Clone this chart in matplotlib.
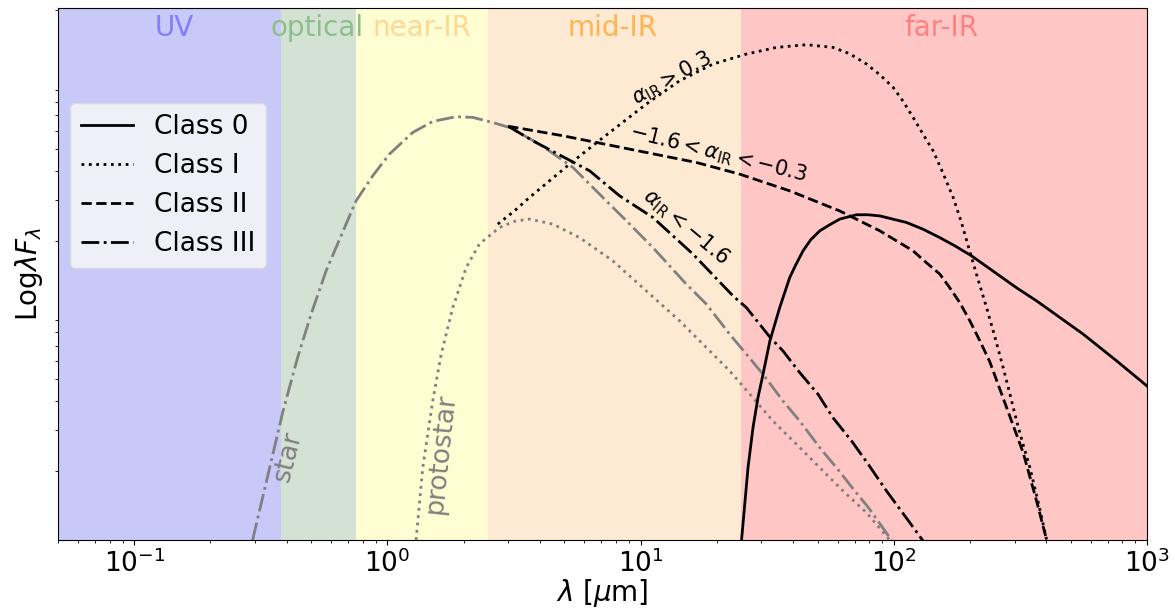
import matplotlib
matplotlib.use("Agg")
import matplotlib.pyplot as plt
from matplotlib.ticker import NullFormatter

# ---- data (wavelength in micron, lambda*F_lambda in arbitrary units) ----
star_x = [0.2935, 0.3857, 0.4418, 0.4995, 0.5726, 0.6866, 0.752, 0.875, 1.018, 1.259,
          1.51, 1.868, 2.174, 2.607, 3.035, 3.99, 5.40, 6.89, 8.78, 11.18, 15.16,
          18.19, 22.48, 26.17, 30.44, 36.5, 42.5, 51.0, 59.36, 71.2, 79.1, 97.9]
star_y = [1.0, 3.58, 6.20, 9.58, 14.77, 23.59, 29.78, 38.24, 47.5, 59.0,
          65.9, 69.1, 68.6, 65.2, 62.0, 52.5, 41.6, 31.8, 24.4, 18.66, 12.93,
          10.59, 7.84, 6.42, 5.25, 4.02, 3.29, 2.52, 2.062, 1.60, 1.39, 1.0]

proto_x = [1.298, 1.379, 1.51, 1.631, 1.812, 2.047, 2.31, 2.772, 3.177, 3.64, 4.50,
           5.74, 7.77, 10.53, 14.26, 19.31, 22.48, 26.97, 33.3, 41.25, 51.0, 63.05,
           78.0, 96.4]
proto_y = [1.0, 2.062, 4.02, 6.42, 10.23, 15.28, 19.36, 22.8, 24.26, 24.8, 23.59,
           20.6, 16.33, 12.09, 8.96, 6.42, 5.43, 4.31, 3.29, 2.607, 2.062, 1.633,
           1.314, 1.0]

class0_x = [25.0, 26.56, 27.79, 29.08, 30.44, 32.4, 35.43, 38.8, 41.0, 43.8, 46.95,
            51.0, 55.8, 61.2, 71.2, 79.1, 88.1, 112.3, 130.6, 152.0, 174.2, 202.8,
            305.5, 366.4, 413.6, 560, 759, 1000]
class0_y = [0.98, 2.062, 3.08, 4.16, 5.25, 7.33, 10.23, 13.81, 15.69, 18.05, 20.15,
            22.05, 23.43, 24.8, 25.9, 25.9, 25.6, 23.97, 22.4, 20.6, 18.98, 17.17,
            12.47, 10.94, 9.95, 7.84, 6.00, 4.67]

class1_x = [2.729, 3.177, 3.64, 4.369, 5.24, 6.89, 8.26, 10.53, 14.26, 19.31, 26.17,
            34.4, 45.2, 57.5, 67.0, 78.0, 88.1, 99.4, 108.5, 119.2, 130.2, 143.0,
            156.2, 171.6, 185.7, 199.7, 214.8, 232.5, 250.7, 270.4, 287.4, 305.5,
            323.6, 344.8, 370.9, 401.5]
class1_y = [23.59, 26.94, 30.8, 36.38, 43.0, 54.6, 63.73, 78.4, 99.0, 117.0, 129.3,
            138.2, 142.0, 138.2, 129.7, 117.0, 105.1, 92.6, 81.0, 68.6, 58.2, 49.1,
            39.4, 30.8, 23.65, 17.87, 13.64, 10.23, 7.63, 5.61, 4.31, 3.29,
            2.615, 2.062, 1.477, 1.0]

class2_x = [3.0, 4.93, 6.68, 10.53, 16.6, 24.6, 38.8, 61.2, 88.1, 119.2, 132.6,
            152.0, 166.4, 182.4, 199.7, 218.8, 239.5, 279.0, 324.5, 366.4, 401.5]
class2_y = [62.8, 57.1, 53.4, 48.3, 43.7, 38.9, 32.9, 26.9, 22.05, 18.05, 16.25,
            14.3, 12.47, 10.73, 8.96, 7.33, 5.94, 3.76, 2.39, 1.477, 1.0]

class3_x = [3.0, 3.75, 6.29, 8.26, 11.18, 16.10, 23.17, 26.17, 32.36, 36.5, 42.5,
            50.2, 57.5, 68.1, 79.1, 93.6, 115.7, 130.6]
class3_y = [62.8, 54.3, 40.2, 31.3, 25.2, 17.47, 11.5, 10.23, 7.63, 6.63, 5.34,
            4.30, 3.40, 2.695, 2.14, 1.633, 1.189, 0.99]

band_edges = [0.05, 0.38, 0.75, 2.5, 25, 1000]
band_names = ["UV", "optical", "near-IR", "mid-IR", "far-IR"]
band_colors = ["#c8c8f9", "#d4e2d4", "#fefed2", "#feead2", "#ffc6c6"]
band_text_colors = ["#8080ff", "#8cbf8c", "#ffd796", "#ffb450", "#ff8080"]
band_text_x = [0.144, 0.529, 1.363, 7.76, 154.6]

# ---- figure ----
fig = plt.figure(figsize=(11.75, 6.10), dpi=100)
ax = fig.add_axes([58 / 1175, 1 - 540 / 610, (1147 - 58) / 1175, (540 - 8) / 610])

for i in range(5):
    ax.axvspan(band_edges[i], band_edges[i + 1], color=band_colors[i], lw=0, zorder=0)
    ax.text(band_text_x[i], 168, band_names[i], color=band_text_colors[i],
            fontsize=20, ha="center", va="center")

ax.plot(star_x, star_y, color="gray", ls="-.", lw=2)
ax.plot(proto_x, proto_y, color="gray", ls=":", lw=2)

ax.plot(class0_x, class0_y, color="black", ls="-", lw=2, label="Class 0")
ax.plot(class1_x, class1_y, color="black", ls=":", lw=2, label="Class I")
ax.plot(class2_x, class2_y, color="black", ls="--", lw=2, label="Class II")
ax.plot(class3_x, class3_y, color="black", ls="-.", lw=2, label="Class III")

ax.text(13.26, 101, r"$\alpha_{\rm IR} > 0.3$", fontsize=15, rotation=29,
        ha="center", va="center")
ax.text(20.15, 47.7, r"$-1.6 < \alpha_{\rm IR} < -0.3$", fontsize=15, rotation=-14,
        ha="center", va="center")
ax.text(15.06, 22.95, r"$\alpha_{\rm IR} < -1.6$", fontsize=15, rotation=-40,
        ha="center", va="center")
ax.text(0.406, 2.30, "star", color="gray", fontsize=19, rotation=76,
        ha="center", va="center")
ax.text(1.635, 2.37, "protostar", color="gray", fontsize=19, rotation=84,
        ha="center", va="center")

ax.set_xscale("log")
ax.set_yscale("log")
ax.set_xlim(0.05, 1000)
ax.set_ylim(1, 205)
ax.set_yticks([])
ax.yaxis.set_minor_formatter(NullFormatter())
ax.tick_params(axis="both", which="major", labelsize=19)
ax.set_xlabel(r"$\lambda$ [$\mu$m]", fontsize=20, labelpad=-1)
ax.set_ylabel(r"Log$\lambda F_\lambda$", fontsize=20)

ax.legend(loc="upper left", bbox_to_anchor=(0.011, 0.821), borderaxespad=0,
          fontsize=19, facecolor="#efeff7", framealpha=1.0, edgecolor="#d8d8e0")

fig.savefig("out.png", dpi=100)
